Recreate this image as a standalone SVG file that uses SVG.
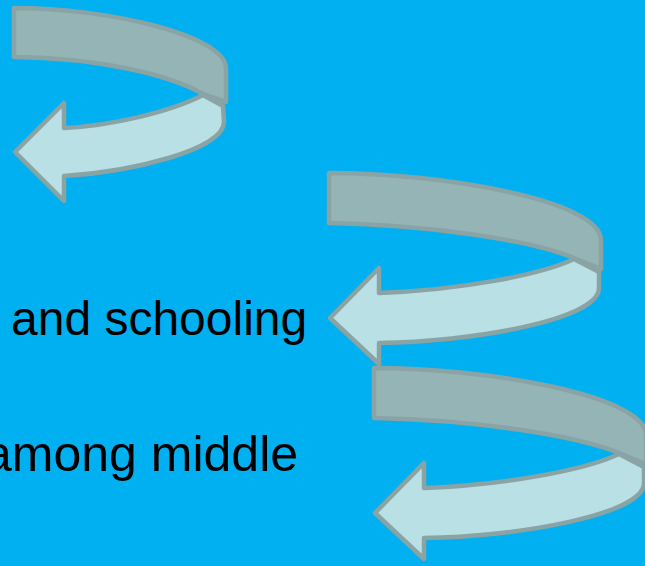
<svg xmlns="http://www.w3.org/2000/svg" width="645" height="566" viewBox="0 0 645 566">
  <style>
    .back { fill: #95b4b5; stroke: #8aa3a4; stroke-width: 4.5; stroke-linejoin: round; }
    .front { fill: #b9e0e4; stroke: #8aa3a4; stroke-width: 4.5; stroke-linejoin: round; }
    .label { font-family: "Liberation Sans", Arial, sans-serif; fill: #000000; }
  </style>
  <defs>
    <!-- wide U-turn ribbon arrow: back face (inside of the band) and front face with head -->
    <g id="wide-turn">
      <path class="back" d="M 329,173 C 440,173 601,200 601,240 L 601,269 L 574,258 C 530,240 430,225 329,223 Z"/>
      <path class="front" d="M 574,259 L 599,272 L 599,288 C 599,320 470,342 379,343 L 379,364 L 330,318 L 379,268 L 379,293 C 460,290 540,275 574,259 Z"/>
    </g>
  </defs>

  <rect x="0" y="0" width="645" height="566" fill="#00b0f0"/>

  <g id="arrow-1">
    <path class="back" d="M 14,8 C 110,8 226,36 226,68 L 226,102 L 203,94 C 170,75 100,58 14,57 Z"/>
    <path class="front" d="M 203,95 L 223,106 L 224,122 C 224,150 130,172 64,176 L 64,201 L 15,152 L 64,103 L 64,128 C 110,126 170,112 203,95 Z"/>
  </g>

  <g id="arrow-2">
    <use href="#wide-turn"/>
  </g>

  <g id="arrow-3">
    <use href="#wide-turn" transform="translate(45,195)"/>
  </g>

  <g id="text-1">
    <text class="label" x="11" y="335" font-size="48">and schooling</text>
  </g>
  <g id="text-2">
    <text class="label" x="-16" y="471" font-size="50">among middle</text>
  </g>
</svg>
